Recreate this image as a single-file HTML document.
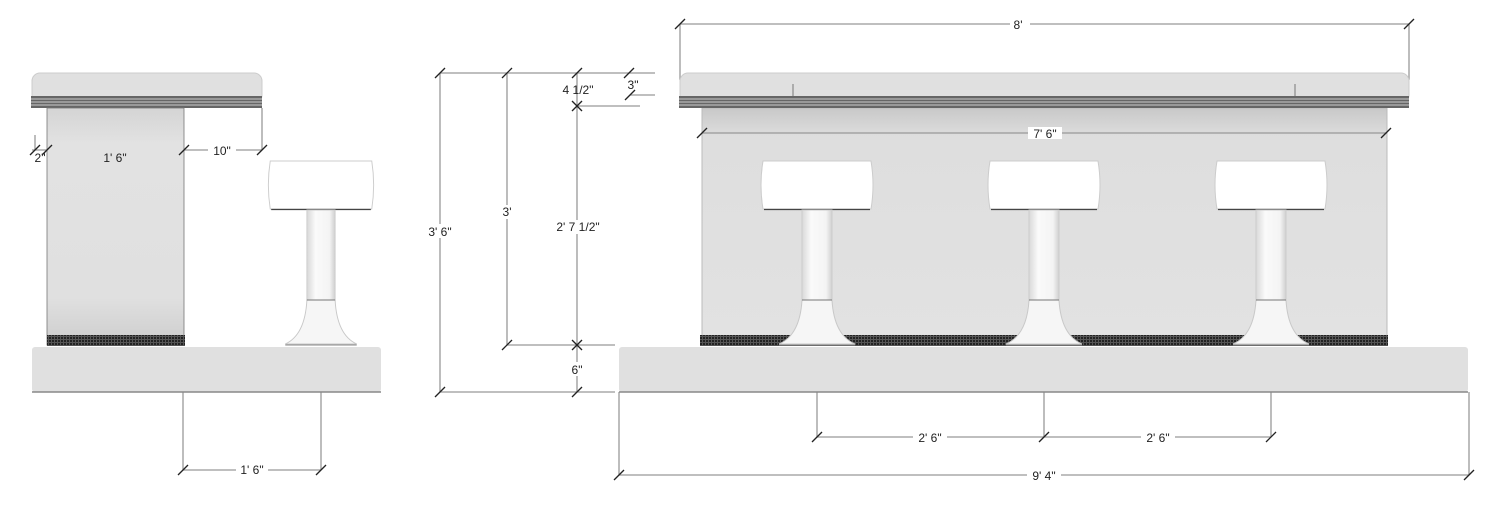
<!DOCTYPE html>
<html><head><meta charset="utf-8"><style>html,body{margin:0;padding:0;background:#fff}svg{display:block}text{font-family:"Liberation Sans",sans-serif;font-size:12px;fill:#222}</style></head>
<body>
<svg width="1500" height="510" viewBox="0 0 1500 510" xmlns="http://www.w3.org/2000/svg">
<defs>
<linearGradient id="col" x1="0" y1="0" x2="0" y2="1"><stop offset="0" stop-color="#d4d4d4"/><stop offset=".15" stop-color="#e2e2e2"/><stop offset=".8" stop-color="#e0e0e0"/><stop offset="1" stop-color="#cdcdcd"/></linearGradient>
<linearGradient id="body" x1="0" y1="0" x2="0" y2="1"><stop offset="0" stop-color="#c8c8c8"/><stop offset=".12" stop-color="#dedede"/><stop offset="1" stop-color="#e2e2e2"/></linearGradient>
<linearGradient id="post" x1="0" y1="0" x2="1" y2="0"><stop offset="0" stop-color="#d8d8d8"/><stop offset=".3" stop-color="#fafafa"/><stop offset=".8" stop-color="#f4f4f4"/><stop offset="1" stop-color="#d0d0d0"/></linearGradient>
<pattern id="mesh" width="3" height="3" patternUnits="userSpaceOnUse"><rect width="3" height="3" fill="#555"/><rect x="1" y="1" width="2" height="2" fill="#222"/></pattern>
<g id="stool">
<path d="M-54,161 Q-58,185 -54,209 L54,209 Q58,185 54,161 Z" fill="#fff" stroke="#ccc"/>
<line x1="-53" y1="209.5" x2="53" y2="209.5" stroke="#444" stroke-width="1.2"/>
<rect x="-15" y="210" width="30" height="90" fill="url(#post)" stroke="#ccc"/>
<path d="M-15,300 L15,300 Q17,335 38,344 L-38,344 Q-17,335 -15,300 Z" fill="#f6f6f6" stroke="#c8c8c8"/>
<line x1="-15" y1="300" x2="15" y2="300" stroke="#777"/>
<line x1="-38" y1="345" x2="38" y2="345" stroke="#888"/>
</g>
<g id="tick"><line x1="-5" y1="5" x2="5" y2="-5" stroke="#222" stroke-width="1.3"/></g>
</defs>
<g stroke="#999" stroke-width="1.3" fill="none">
<line x1="32" y1="150" x2="262" y2="150"/><line x1="262" y1="108" x2="262" y2="150"/><line x1="35" y1="135" x2="35" y2="150"/>
<line x1="183" y1="392" x2="183" y2="470"/><line x1="321" y1="392" x2="321" y2="470"/><line x1="183" y1="470" x2="321" y2="470"/>
<line x1="440" y1="73" x2="655" y2="73"/><line x1="440" y1="73" x2="440" y2="392"/><line x1="507" y1="73" x2="507" y2="345"/><line x1="577" y1="73" x2="577" y2="392"/>
<line x1="630" y1="95" x2="655" y2="95"/><line x1="577" y1="106" x2="640" y2="106"/>
<line x1="507" y1="345" x2="615" y2="345"/><line x1="440" y1="392" x2="615" y2="392"/>
<line x1="680" y1="24" x2="1409" y2="24"/><line x1="680" y1="24" x2="680" y2="80"/><line x1="1409" y1="24" x2="1409" y2="80"/>
<line x1="619" y1="392" x2="619" y2="475"/><line x1="1469" y1="392" x2="1469" y2="475"/><line x1="619" y1="475" x2="1469" y2="475"/>
<line x1="817" y1="392" x2="817" y2="437"/><line x1="1044" y1="392" x2="1044" y2="437"/><line x1="1271" y1="392" x2="1271" y2="437"/><line x1="817" y1="437" x2="1271" y2="437"/>
</g>
<rect x="32" y="73" width="230" height="30" rx="8" fill="#e0e0e0" stroke="#ccc"/>
<rect x="31" y="96" width="231" height="12" fill="#666"/>
<g stroke="#ccc" stroke-width="1"><line x1="31" y1="99" x2="262" y2="99"/><line x1="31" y1="102" x2="262" y2="102"/><line x1="31" y1="105" x2="262" y2="105"/></g>
<rect x="47" y="108" width="137" height="237" fill="url(#col)" stroke="#777" stroke-width="0.8"/>
<rect x="47" y="335" width="138" height="11" fill="url(#mesh)"/>
<rect x="32" y="347" width="349" height="45" rx="3" fill="#e0e0e0"/>
<line x1="32" y1="392" x2="381" y2="392" stroke="#888" stroke-width="1.5"/>
<use href="#stool" transform="translate(321,0) scale(0.94,1)"/>
<rect x="702" y="108" width="685" height="237" fill="url(#body)" stroke="#bbb"/>
<rect x="680" y="73" width="729" height="30" rx="8" fill="#e0e0e0" stroke="#ccc"/>
<rect x="679" y="96" width="730" height="12" fill="#666"/>
<g stroke="#ccc" stroke-width="1"><line x1="679" y1="99" x2="1409" y2="99"/><line x1="679" y1="102" x2="1409" y2="102"/><line x1="679" y1="105" x2="1409" y2="105"/></g>
<g stroke="#777"><line x1="793" y1="84" x2="793" y2="96"/><line x1="1295" y1="84" x2="1295" y2="96"/></g>
<line x1="702" y1="133" x2="1387" y2="133" stroke="#999" stroke-width="1.3"/>
<rect x="700" y="335" width="688" height="11" fill="url(#mesh)"/>
<rect x="619" y="347" width="849" height="45" rx="3" fill="#e0e0e0"/>
<line x1="619" y1="392" x2="1468" y2="392" stroke="#888" stroke-width="1.5"/>
<use href="#stool" transform="translate(817,0)"/>
<use href="#stool" transform="translate(1044,0)"/>
<use href="#stool" transform="translate(1271,0)"/>
<use href="#tick" x="35" y="150"/><use href="#tick" x="47" y="150"/><use href="#tick" x="184" y="150"/><use href="#tick" x="262" y="150"/>
<use href="#tick" x="183" y="470"/><use href="#tick" x="321" y="470"/>
<use href="#tick" x="440" y="73"/><use href="#tick" x="507" y="73"/><use href="#tick" x="577" y="73"/><use href="#tick" x="629" y="73"/><use href="#tick" x="630" y="95"/>
<use href="#tick" x="577" y="106"/><line x1="572" y1="101" x2="582" y2="111" stroke="#222" stroke-width="1.3"/>
<use href="#tick" x="507" y="345"/><use href="#tick" x="577" y="345"/><line x1="572" y1="340" x2="582" y2="350" stroke="#222" stroke-width="1.3"/>
<use href="#tick" x="440" y="392"/><use href="#tick" x="577" y="392"/>
<use href="#tick" x="680" y="24"/><use href="#tick" x="1409" y="24"/>
<use href="#tick" x="702" y="133"/><use href="#tick" x="1386" y="133"/>
<use href="#tick" x="817" y="437"/><use href="#tick" x="1044" y="437"/><use href="#tick" x="1271" y="437"/>
<use href="#tick" x="619" y="475"/><use href="#tick" x="1469" y="475"/>
<g text-anchor="middle">
<rect x="208" y="144" width="28" height="12" fill="#fff"/>
<text x="40" y="162">2"</text><text x="115" y="162">1' 6"</text><text x="222" y="155">10"</text>
<rect x="236" y="464" width="32" height="12" fill="#fff"/><text x="252" y="474">1' 6"</text>
<rect x="425" y="224" width="30" height="14" fill="#fff"/><text x="440" y="236">3' 6"</text>
<rect x="498" y="205" width="18" height="14" fill="#fff"/><text x="507" y="216">3'</text>
<rect x="552" y="220" width="52" height="14" fill="#fff"/><text x="578" y="231">2' 7 1/2"</text>
<text x="578" y="94">4 1/2"</text><text x="633" y="89">3"</text>
<rect x="568" y="362" width="18" height="14" fill="#fff"/><text x="577" y="374">6"</text>
<rect x="1010" y="18" width="20" height="12" fill="#fff"/><text x="1018" y="29">8'</text>
<rect x="1028" y="127" width="34" height="12" fill="#fff"/><text x="1045" y="138">7' 6"</text>
<rect x="913" y="431" width="34" height="12" fill="#fff"/><text x="930" y="442">2' 6"</text>
<rect x="1141" y="431" width="34" height="12" fill="#fff"/><text x="1158" y="442">2' 6"</text>
<rect x="1027" y="469" width="34" height="12" fill="#fff"/><text x="1044" y="480">9' 4"</text>
</g>
</svg>
</body></html>
